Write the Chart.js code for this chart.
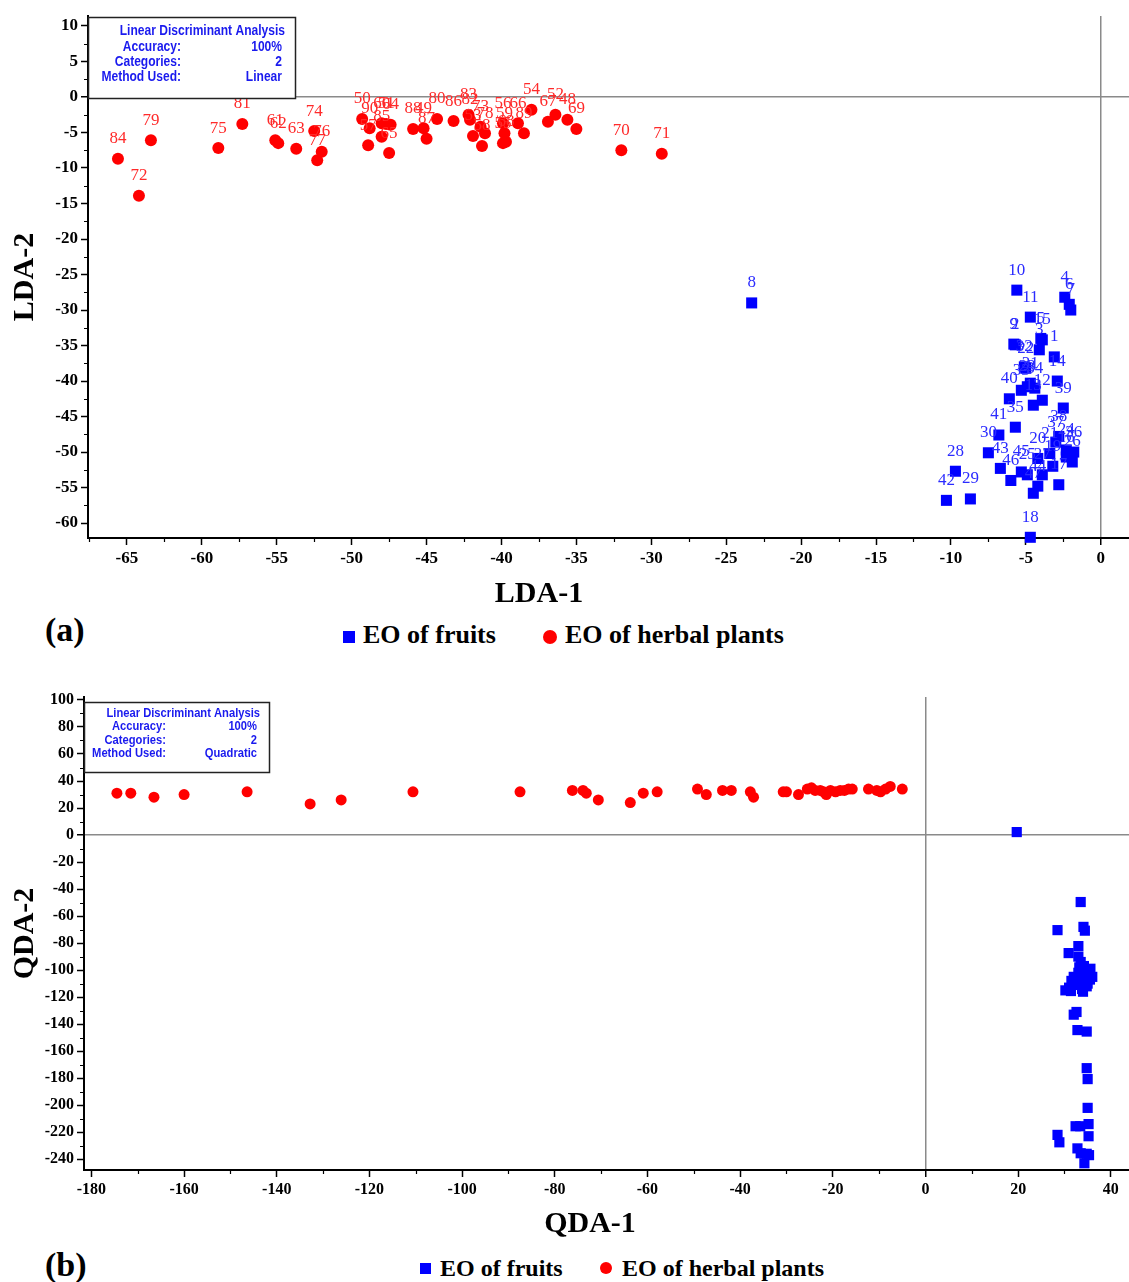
<!DOCTYPE html>
<html lang="en">
<head>
  <meta charset="utf-8">
  <title>LDA / QDA of essential oils</title>
  <style>
    body { margin: 0; background: #fff; width: 1129px; height: 1282px; position: relative; overflow: hidden; }
    canvas { position: absolute; left: 0; }
    #chartA { top: 0; }
    #chartB { top: 680px; }
    .lbl { position: absolute; font-family: "Liberation Serif", "Times New Roman", serif; font-weight: bold; color: #000; white-space: nowrap; line-height: 1; }
    .sq { position: absolute; background: #0000ff; }
    .dot { position: absolute; background: #ff0000; border-radius: 50%; }
  </style>
</head>

<body>
  <!-- canvases are a bit wider than the page: Chart.js keeps a few px on the right for the last tick label -->
  <canvas id="chartA" width="1137" height="610"></canvas>
  <canvas id="chartB" width="1137" height="560"></canvas>

  <div class="lbl" style="left:439px;top:577px;width:200px;text-align:center;font-size:30px">LDA-1</div>
  <div class="lbl" style="left:45px;top:613px;font-size:34px">(a)</div>
  <div class="sq" style="left:343px;top:631px;width:12px;height:12px"></div>
  <div class="lbl" style="left:363px;top:622px;font-size:26px">EO of fruits</div>
  <div class="dot" style="left:543px;top:630px;width:14px;height:14px"></div>
  <div class="lbl" style="left:565px;top:622px;font-size:26px">EO of herbal plants</div>

  <div class="lbl" style="left:490px;top:1207px;width:200px;text-align:center;font-size:30px">QDA-1</div>
  <div class="lbl" style="left:45px;top:1248px;font-size:34px">(b)</div>
  <div class="sq" style="left:420px;top:1263px;width:11px;height:11px"></div>
  <div class="lbl" style="left:440px;top:1256px;font-size:24px">EO of fruits</div>
  <div class="dot" style="left:600px;top:1262px;width:12px;height:12px"></div>
  <div class="lbl" style="left:622px;top:1256px;font-size:24px">EO of herbal plants</div>

  <script src="https://cdn.jsdelivr.net/npm/chart.js@4"></script>
  <script>
    // ---- (a) LDA scores ----
    const fruitLdaNo = [1, 2, 3, 4, 5, 6, 7, 8, 9, 10, 11, 12, 13, 14, 15, 16, 17, 18, 19, 20, 21, 22, 23, 24,
      25, 26, 27, 28, 29, 30, 31, 32, 33, 34, 35, 36, 37, 38, 39, 40, 41, 42, 43, 44, 45, 46, 47]
    const fruitLdaX = [-3.1, -5.7, -4.1, -2.4, -4.0, -2.1, -2.0, -23.3, -5.8, -5.6, -4.7, -3.9, -4.5, -2.9, -3.9, -2.3,
      -2.8, -4.7, -3.2, -4.2, -3.4, -5.0, -4.9, -2.3, -4.9, -1.9, -3.9, -9.7, -8.7, -7.5, -4.7, -5.1, -5.3, -4.4,
      -5.7, -1.8, -3.0, -2.8, -2.5, -6.1, -6.8, -10.3, -6.7, -4.2, -5.3, -6.0, -4.5]
    const fruitLdaY = [-36.6, -34.9, -35.6, -28.2, -34.0, -29.2, -30.0, -29.0, -34.8, -27.2, -31.0, -42.7, -43.4, -40.0,
      -34.2, -50.7, -54.6, -62.0, -52.0, -50.9, -50.2, -38.2, -40.8, -49.7, -53.2, -51.4, -53.2, -52.7, -56.6, -50.1,
      -40.3, -38.0, -41.3, -41.0, -46.5, -50.0, -48.6, -47.8, -43.8, -42.5, -47.6, -56.8, -52.3, -54.8, -52.8, -54.0, -55.8]

    const herbLdaNo = [84, 72, 79, 75, 81, 61, 62, 63, 74, 76, 77, 50, 90, 57, 60, 51, 64, 85, 65, 88, 49, 87, 80, 86,
      83, 82, 53, 73, 78, 58, 56, 59, 55, 68, 66, 89, 54, 67, 52, 48, 69, 70, 71]
    const herbLdaX = [-65.6, -64.2, -63.4, -58.9, -57.3, -55.1, -54.9, -53.7, -52.5, -52.0, -52.3, -49.3, -48.8, -48.9,
      -48.0, -47.7, -47.4, -48.0, -47.5, -45.9, -45.2, -45.0, -44.3, -43.2, -42.2, -42.1, -41.9, -41.4, -41.1, -41.3,
      -39.9, -39.8, -39.9, -39.7, -38.9, -38.5, -38.0, -36.9, -36.4, -35.6, -35.0, -32.0, -29.3]
    const herbLdaY = [-8.7, -13.9, -6.1, -7.2, -3.8, -6.1, -6.5, -7.3, -4.8, -7.7, -8.9, -3.1, -4.4, -6.8, -3.7, -3.8,
      -3.9, -5.6, -7.9, -4.5, -4.4, -5.9, -3.1, -3.4, -2.5, -3.2, -5.5, -4.2, -5.1, -6.9, -3.7, -5.1, -6.5, -6.3,
      -3.7, -5.1, -1.8, -3.5, -2.5, -3.2, -4.5, -7.5, -8.0]

    const ldaXTicks = [-65, -60, -55, -50, -45, -40, -35, -30, -25, -20, -15, -10, -5, 0]
    const ldaYTicks = [10, 5, 0, -5, -10, -15, -20, -25, -30, -35, -40, -45, -50, -55, -60]

    // ---- (b) QDA scores ----
    const fruitQdaX = [19.7, 33.5, 28.5, 34.1, 34.4, 33.0, 30.9, 33.0, 33.5, 34.2, 34.5, 33.0, 35.3, 32.0, 34.0, 35.5,
      31.5, 33.5, 35.0, 32.5, 34.8, 31.0, 33.8, 30.2, 31.4, 35.6, 34.0, 36.0, 33.2, 32.0, 32.6, 32.8, 34.8, 34.8,
      35.0, 35.0, 32.4, 33.4, 35.2, 28.5, 28.9, 35.2, 32.8, 33.5, 34.8, 34.3, 35.3]
    const fruitQdaY = [2.2, -49.6, -70.4, -68.0, -70.8, -82.2, -87.4, -90, -94, -97, -100, -102, -103, -105, -106, -107,
      -108, -109, -110, -111, -112, -113, -114, -115, -115.5, -99, -116, -105, -98, -133, -131, -144.4, -145.5,
      -172.6, -180.7, -202, -215.6, -215.6, -214, -222, -227.5, -223, -232, -235.6, -236, -243, -237]

    const herbQdaX = [-174.5, -171.5, -166.5, -160, -146.4, -132.8, -126.1, -110.6, -87.5, -76.2, -73.9, -73.2, -70.6,
      -63.7, -60.9, -57.9, -49.2, -47.3, -43.8, -41.9, -37.8, -37.1, -30.7, -30.0, -27.4, -25.5, -24.6, -23.8, -22.7,
      -22.0, -21.4, -20.5, -19.4, -18.4, -17.5, -16.6, -15.8, -12.3, -10.5, -9.7, -8.6, -7.6, -5.0]
    const herbQdaY = [31, 31, 28, 30, 32, 23, 26, 32, 32, 33, 33, 31, 26, 24, 31, 32, 34, 30, 33, 33, 32, 28, 32, 32,
      30, 34, 35, 33, 33, 32, 30, 33, 32, 33, 33, 34, 34, 34, 33, 32, 34, 36, 34]

    const qdaXTicks = [-180, -160, -140, -120, -100, -80, -60, -40, -20, 0, 20, 40]
    const qdaYTicks = [100, 80, 60, 40, 20, 0, -20, -40, -60, -80, -100, -120, -140, -160, -180, -200, -220, -240]

    const serif = '"Liberation Serif", "Times New Roman", serif'
    const toPoints = (xs, ys) => xs.map((x, i) => ({ x: x, y: ys[i] }))

    // text drawn slightly condensed, like the software's info panel
    function narrowText(ctx, text, x, y, align) {
      ctx.save()
      ctx.translate(x, y)
      ctx.scale(0.86, 1)
      ctx.textAlign = align
      ctx.fillText(text, 0, 0)
      ctx.restore()
    }

    const decorPlugin = {
      id: 'decor',
      beforeDatasetsDraw(chart, args, opts) {
        // short minor ticks halfway between the labelled ones
        const ctx = chart.ctx
        const xs = chart.scales.x, ys = chart.scales.y
        ctx.save()
        ctx.strokeStyle = '#000'
        ctx.lineWidth = 1.2
        ctx.beginPath()
        opts.xMinor.forEach(v => {
          const px = Math.round(xs.getPixelForValue(v)) + 0.5
          ctx.moveTo(px, xs.top); ctx.lineTo(px, xs.top + 4)
        })
        opts.yMinor.forEach(v => {
          const py = Math.round(ys.getPixelForValue(v)) + 0.5
          ctx.moveTo(ys.right - 4, py); ctx.lineTo(ys.right, py)
        })
        ctx.stroke()
        ctx.restore()
      },
      afterDatasetsDraw(chart, args, opts) {
        const ctx = chart.ctx
        // sample numbers next to the points
        if (opts.pointLabels) {
          ctx.save()
          ctx.font = '17px ' + serif
          ctx.textAlign = 'center'
          ctx.textBaseline = 'middle'
          chart.data.datasets.forEach((ds, i) => {
            ctx.fillStyle = ds.labelColor
            chart.getDatasetMeta(i).data.forEach((pt, j) => {
              ctx.fillText(String(ds.sampleNo[j]), pt.x, pt.y - 20)
            })
          })
          ctx.restore()
        }
        // info box
        const b = opts.box
        const left = chart.chartArea.left
        ctx.save()
        ctx.fillStyle = '#fff'
        ctx.fillRect(left, b.top, b.w, b.h)
        ctx.strokeStyle = '#222'
        ctx.lineWidth = 1.5
        ctx.strokeRect(left + 0.5, b.top + 0.5, b.w, b.h)
        ctx.fillStyle = '#1a1aee'
        ctx.font = 'bold ' + b.size + 'px "Liberation Sans", Arial, sans-serif'
        ctx.textBaseline = 'middle'
        narrowText(ctx, 'Linear Discriminant Analysis', left + b.titleRight, b.rows[0], 'right')
        const keys = ['Accuracy:', 'Categories:', 'Method Used:']
        keys.forEach((k, i) => {
          narrowText(ctx, k, left + b.keyRight, b.rows[i + 1], 'right')
          narrowText(ctx, b.values[i], left + b.valRight, b.rows[i + 1], 'right')
        })
        ctx.restore()
      }
    }

    function axisScales(xr, yr, xTicks, yTicks, yTitle, yWidth, xHeight, tickSize) {
      const zeroGrid = {
        drawOnChartArea: true,
        color: c => (c.tick && c.tick.value === 0) ? '#8a8a8a' : 'rgba(0,0,0,0)',
        lineWidth: c => (c.tick && c.tick.value === 0) ? 1.5 : 1,
        tickColor: '#000',
        tickWidth: 1.5,
        tickLength: 7
      }
      const tickFont = { family: serif, weight: 'bold', size: tickSize }
      return {
        x: {
          type: 'linear', min: xr[0], max: xr[1],
          afterBuildTicks: s => { s.ticks = xTicks.map(v => ({ value: v })) },
          afterFit: s => { s.height = xHeight },
          grid: zeroGrid,
          border: { display: true, color: '#000', width: 2 },
          ticks: { color: '#000', font: tickFont, padding: 3, maxRotation: 0, autoSkip: false, callback: v => String(v) }
        },
        y: {
          type: 'linear', min: yr[0], max: yr[1],
          afterBuildTicks: s => { s.ticks = yTicks.map(v => ({ value: v })) },
          afterFit: s => { s.width = yWidth },
          grid: zeroGrid,
          border: { display: true, color: '#000', width: 2 },
          title: { display: true, text: yTitle, color: '#000', font: { family: serif, weight: 'bold', size: 30 }, padding: { top: 7, bottom: 0 } },
          ticks: { color: '#000', font: tickFont, padding: 3, autoSkip: false, callback: v => String(v) }
        }
      }
    }

    const minorOf = (ticks, step, lo, hi) => ticks.map(v => v + step / 2).concat(ticks.map(v => v - step / 2))
      .filter((v, i, a) => v > lo && v < hi && a.indexOf(v) === i)

    function renderCharts() {
      new Chart(document.getElementById('chartA'), {
        type: 'scatter',
        data: {
          datasets: [{
            label: 'EO of fruits',
            data: toPoints(fruitLdaX, fruitLdaY),
            sampleNo: fruitLdaNo,
            labelColor: '#2b2bff',
            pointStyle: 'rect', pointRadius: 7.8, borderWidth: 0,
            backgroundColor: '#0000ff', clip: false
          }, {
            label: 'EO of herbal plants',
            data: toPoints(herbLdaX, herbLdaY),
            sampleNo: herbLdaNo,
            labelColor: '#ff2a2a',
            pointStyle: 'circle', pointRadius: 6, borderWidth: 0,
            backgroundColor: '#ff0000', clip: false
          }]
        },
        options: {
          responsive: false, animation: false,
          layout: { padding: { top: 16, right: 0, left: 0, bottom: 0 } },
          scales: axisScales([-67.6, 1.9], [-62.1, 11.4], ldaXTicks, ldaYTicks, 'LDA-2', 88, 72, 17),
          plugins: {
            legend: { display: false },
            tooltip: { enabled: false },
            decor: {
              pointLabels: true,
              xMinor: minorOf(ldaXTicks, 5, -67.6, 1.9),
              yMinor: minorOf(ldaYTicks, 5, -62.1, 11.4),
              box: { top: 17, w: 207, h: 81, size: 14, rows: [31, 47, 62, 77], titleRight: 197, keyRight: 93, valRight: 194, values: ['100%', '2', 'Linear'] }
            }
          }
        },
        plugins: [decorPlugin]
      })

      new Chart(document.getElementById('chartB'), {
        type: 'scatter',
        data: {
          datasets: [{
            label: 'EO of fruits',
            data: toPoints(fruitQdaX, fruitQdaY),
            pointStyle: 'rect', pointRadius: 7.2, borderWidth: 0,
            backgroundColor: '#0000ff', clip: false
          }, {
            label: 'EO of herbal plants',
            data: toPoints(herbQdaX, herbQdaY),
            pointStyle: 'circle', pointRadius: 5.5, borderWidth: 0,
            backgroundColor: '#ff0000', clip: false
          }]
        },
        options: {
          responsive: false, animation: false,
          layout: { padding: { top: 17, right: 0, left: 0, bottom: 0 } },
          scales: axisScales([-181.6, 44.1], [-248, 102.2], qdaXTicks, qdaYTicks, 'QDA-2', 84, 70, 16),
          plugins: {
            legend: { display: false },
            tooltip: { enabled: false },
            decor: {
              pointLabels: false,
              xMinor: minorOf(qdaXTicks, 20, -181.6, 44.1),
              yMinor: minorOf(qdaYTicks, 20, -248, 102.2),
              box: { top: 22, w: 185, h: 70, size: 13, rows: [33, 46, 60, 73], titleRight: 176, keyRight: 82, valRight: 173, values: ['100%', '2', 'Quadratic'] }
            }
          }
        },
        plugins: [decorPlugin]
      })
    }

    window.onload = renderCharts
  </script>
</body>

</html>
